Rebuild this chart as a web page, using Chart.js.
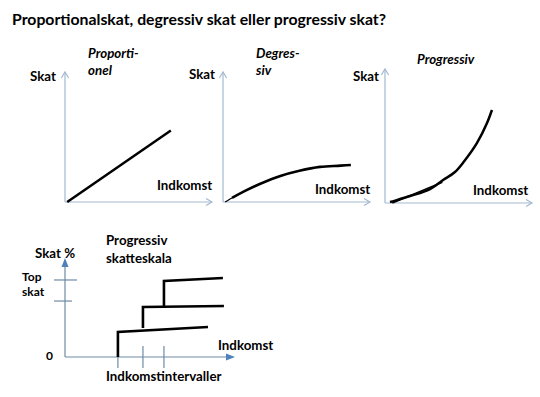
<!DOCTYPE html>
<html>
<head>
<meta charset="utf-8">
<script src="https://cdn.jsdelivr.net/npm/chart.js@4.4.1/dist/chart.umd.min.js"></script>
<style>
  body { margin: 0; background: #fff; }
  #page { position: relative; width: 540px; height: 397px; overflow: hidden; font-family: Lato, "Open Sans", sans-serif; }
  #page canvas { position: absolute; }
  .lbl { position: absolute; font-weight: bold; font-size: 13.3px; line-height: 13px; color: #000; white-space: nowrap; }
  .it { font-style: italic; }
  .title { font-size: 15.8px; line-height: 16px; }
  .small { font-size: 12px; line-height: 12px; }
</style>
</head>
<body>
<div id="page">
  <div class="lbl title" style="left:12px;top:11px">Proportionalskat, degressiv skat eller progressiv skat?</div>

  <div class="lbl" style="left:30px;top:70px">Skat</div>
  <div class="lbl it" style="left:88px;top:47px">Proporti-</div>
  <div class="lbl it" style="left:88px;top:64px">onel</div>
  <div class="lbl" style="left:157px;top:179px">Indkomst</div>

  <div class="lbl" style="left:189px;top:68px">Skat</div>
  <div class="lbl it" style="left:256px;top:47px">Degres-</div>
  <div class="lbl it" style="left:256px;top:64px">siv</div>
  <div class="lbl" style="left:315px;top:183px">Indkomst</div>

  <div class="lbl" style="left:353px;top:70px">Skat</div>
  <div class="lbl it" style="left:417px;top:53px">Progressiv</div>
  <div class="lbl" style="left:473px;top:184px">Indkomst</div>

  <div class="lbl" style="left:35px;top:247px">Skat %</div>
  <div class="lbl" style="left:106px;top:234px">Progressiv</div>
  <div class="lbl" style="left:106px;top:252px">skatteskala</div>
  <div class="lbl small" style="left:22px;top:271px">Top</div>
  <div class="lbl small" style="left:22px;top:286px">skat</div>
  <div class="lbl small" style="left:46px;top:350px">0</div>
  <div class="lbl" style="left:218px;top:339px">Indkomst</div>
  <div class="lbl" style="left:106px;top:370px">Indkomstintervaller</div>

  <canvas id="propChart"></canvas>
  <canvas id="degChart"></canvas>
  <canvas id="progChart"></canvas>
  <canvas id="stepChart"></canvas>
</div>
<script>
// proportional tax
const propIncome = [0.15, 7.2];
const propTax = [0, 5.5];

// degressive tax
const degIncome = [0.14, 0.61, 1.5, 2.5, 3.9, 5.2, 6.6, 8.0, 8.7];
const degTax = [0, 0.31, 0.85, 1.38, 2.0, 2.4, 2.7, 2.8, 2.85];

// progressive tax (outer curve + the inner stroke near the origin)
const progIncome = [0.34, 1.7, 3.06, 3.95, 4.76, 5.3, 6.26, 6.94, 7.28];
const progTax = [0.07, 0.52, 1.04, 1.72, 2.31, 2.99, 4.48, 5.97, 6.94];
const progInnerIncome = [0.5, 3.9];
const progInnerTax = [0, 1.55];

// progressive tax scale (steps)
const step1Income = [3.15, 3.15, 8.51];
const step1Tax = [0, 2.58, 3.09];
const step2Income = [4.64, 4.64, 9.46];
const step2Tax = [2.99, 5.15, 5.26];
const step3Income = [5.89, 5.89, 9.40];
const step3Tax = [5.15, 7.84, 8.14];
const bracketTicks = [3.15, 4.64, 5.89];
const topTaxTicks = [5.77, 7.94];

const toPoints = (xs, ys) => xs.map((v, i) => ({ x: v, y: ys[i] }));

const sketchAxes = {
  id: 'sketchAxes',
  beforeDatasetsDraw(chart, args, opts) {
    const { ctx, scales: { x, y } } = chart;
    const x0 = x.getPixelForValue(0);
    const y0 = y.getPixelForValue(0);
    const xEnd = x.getPixelForValue(x.max);
    const yEnd = y.getPixelForValue(y.max);
    ctx.save();
    ctx.strokeStyle = opts.color;
    ctx.lineWidth = 1.2;
    ctx.beginPath();
    ctx.moveTo(x0, y0); ctx.lineTo(xEnd, y0);
    ctx.moveTo(x0, y0); ctx.lineTo(x0, yEnd);
    ctx.stroke();

    const a = opts.arrow;
    if (opts.filled) {
      ctx.fillStyle = opts.arrowColor;
      ctx.beginPath();
      ctx.moveTo(xEnd + 2, y0); ctx.lineTo(xEnd - a, y0 - a * 0.5); ctx.lineTo(xEnd - a, y0 + a * 0.5);
      ctx.closePath(); ctx.fill();
      ctx.beginPath();
      ctx.moveTo(x0, yEnd - 2); ctx.lineTo(x0 - a * 0.5, yEnd + a); ctx.lineTo(x0 + a * 0.5, yEnd + a);
      ctx.closePath(); ctx.fill();
    } else {
      ctx.beginPath();
      ctx.moveTo(xEnd - a, y0 - a * 0.6); ctx.lineTo(xEnd, y0); ctx.lineTo(xEnd - a, y0 + a * 0.6);
      ctx.moveTo(x0 - a * 0.6, yEnd + a); ctx.lineTo(x0, yEnd); ctx.lineTo(x0 + a * 0.6, yEnd + a);
      ctx.stroke();
    }

    (opts.xTicks || []).forEach((v) => {
      const px = x.getPixelForValue(v);
      ctx.beginPath();
      ctx.moveTo(px, y0 - 11); ctx.lineTo(px, y0 + 11);
      ctx.stroke();
    });
    (opts.yTicks || []).forEach((v, i) => {
      const py = y.getPixelForValue(v);
      ctx.beginPath();
      ctx.moveTo(x0 - 11, py); ctx.lineTo(x0 + opts.yTickRight[i], py);
      ctx.stroke();
    });
    ctx.restore();
  }
};

const PAD = 12;

function sketch(id, left, top, w, h, datasets, axisOpts) {
  const canvas = document.getElementById(id);
  canvas.width = w + PAD * 2;
  canvas.height = h + PAD * 2;
  canvas.style.left = (left - PAD) + 'px';
  canvas.style.top = (top - PAD) + 'px';
  return new Chart(canvas, {
    type: 'line',
    data: { datasets },
    options: {
      responsive: false,
      animation: false,
      layout: { padding: PAD },
      scales: {
        x: { type: 'linear', min: 0, max: 10, display: false },
        y: { type: 'linear', min: 0, max: 10, display: false },
      },
      plugins: {
        legend: { display: false },
        tooltip: { enabled: false },
        sketchAxes: axisOpts,
      },
    },
    plugins: [sketchAxes],
  });
}

const ink = {
  borderColor: '#000',
  borderWidth: 2.5,
  pointRadius: 0,
  clip: false,
  fill: false,
};
const curve = { tension: 0.4, cubicInterpolationMode: 'monotone' };
const lightAxis = { color: '#a3b9d0', arrow: 6, filled: false };

sketch('propChart', 65, 72, 147, 130, [
  { ...ink, data: toPoints(propIncome, propTax) },
], lightAxis);

sketch('degChart', 223, 72, 147, 130, [
  { ...ink, ...curve, data: toPoints(degIncome, degTax),
    segment: { borderWidth: (c) => (c.p0DataIndex === 0 ? 1.2 : 2.6) } },
], lightAxis);

sketch('progChart', 385, 69, 147, 134, [
  { ...ink, ...curve, data: toPoints(progIncome, progTax) },
  { ...ink, borderWidth: 1.5, data: toPoints(progInnerIncome, progInnerTax) },
], lightAxis);

sketch('stepChart', 65, 260, 168, 97, [
  { ...ink, borderWidth: 2.6, data: toPoints(step1Income, step1Tax) },
  { ...ink, borderWidth: 2.6, data: toPoints(step2Income, step2Tax) },
  { ...ink, borderWidth: 2.6, data: toPoints(step3Income, step3Tax) },
], {
  color: '#6f8ba5', arrowColor: '#4f81bd', arrow: 7, filled: true,
  xTicks: bracketTicks, yTicks: topTaxTicks, yTickRight: [7, 12],
});
</script>
</body>
</html>
